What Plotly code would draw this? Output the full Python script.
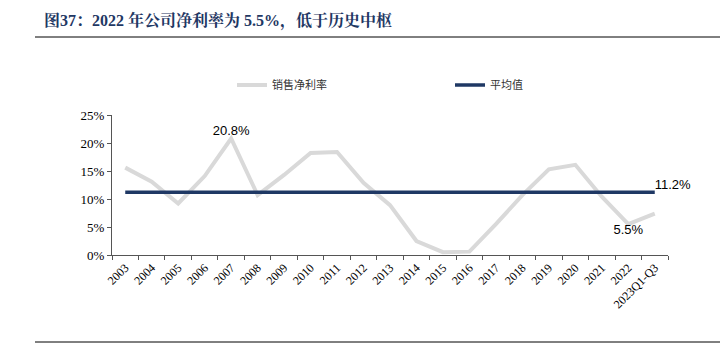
import plotly.graph_objects as go

categories = ["2003", "2004", "2005", "2006", "2007", "2008", "2009", "2010", "2011", "2012",
              "2013", "2014", "2015", "2016", "2017", "2018", "2019", "2020", "2021", "2022",
              "2023Q1-Q3"]
net_margin = [15.6, 13.1, 9.2, 14.1, 20.8, 10.7, 14.3, 18.2, 18.4, 12.9,
              8.9, 2.5, 0.5, 0.6, 5.5, 10.7, 15.3, 16.1, 10.4, 5.5, 7.4]
average_value = 11.2
y_ticks = [0, 5, 10, 15, 20, 25]
y_tick_labels = ["0%", "5%", "10%", "15%", "20%", "25%"]

avg_series = [average_value] * len(categories)

def pct(v):
    return f"{v:.1f}%"

gray_text = [""] * len(categories)
gray_pos = ["top center"] * len(categories)
i_max = net_margin.index(max(net_margin))
gray_text[i_max] = pct(net_margin[i_max])
gray_pos[i_max] = "top center"
i22 = categories.index("2022")
gray_text[i22] = pct(net_margin[i22])
gray_pos[i22] = "bottom center"

avg_text = [""] * len(categories)
avg_text[-1] = pct(average_value)

# page has an 8px body margin; figure coordinates are page coordinates minus 8
OFF = 8
W, H = 728 - OFF, 359 - OFF
L, R, T, B = 112 - OFF, 60, 115 - OFF, 359 - 255
pw = W - L - R
ph = H - T - B

def px2paper_x(px):
    return (px - OFF - L) / pw

def px2paper_y(py):
    return (H - B - (py - OFF)) / ph

fig = go.Figure()
fig.add_trace(go.Scatter(
    x=categories, y=net_margin, mode="lines+text", name="销售净利率",
    line=dict(color="#D9D9D9", width=4),
    text=gray_text, textposition=gray_pos,
    textfont=dict(family="Liberation Sans, Arial", size=13, color="#000000"),
    cliponaxis=False, legend="legend",
))
fig.add_trace(go.Scatter(
    x=categories, y=avg_series, mode="lines+text", name="平均值",
    line=dict(color="#1F3864", width=3.5),
    text=avg_text, textposition="top right",
    textfont=dict(family="Liberation Sans, Arial", size=13, color="#000000"),
    cliponaxis=False, legend="legend2",
))

legend_common = dict(
    orientation="h", yanchor="middle", xanchor="left",
    font=dict(family="Noto Sans CJK SC", size=11, color="#333333"),
    bgcolor="rgba(0,0,0,0)", itemwidth=30,
)

fig.update_layout(
    width=W, height=H,
    margin=dict(l=L, r=R, t=T, b=B),
    paper_bgcolor="white", plot_bgcolor="white",
    title=dict(
        text="图37：2022 年公司净利率为 5.5%，低于历史中枢",
        x=(45 - OFF - 1) / W, xref="container", xanchor="left",
        y=1 - (20 - OFF) / H, yref="container", yanchor="middle",
        font=dict(family="Liberation Serif, Noto Serif CJK SC, Noto Sans CJK SC", size=16, color="#1F3864", weight="bold"),
    ),
    showlegend=True,
    legend=dict(x=px2paper_x(232), y=px2paper_y(85), **legend_common),
    legend2=dict(x=px2paper_x(450), y=px2paper_y(85), **legend_common),
    xaxis=dict(
        type="category", showgrid=False, showline=True, linecolor="#555555", linewidth=1,
        ticks="outside", ticklen=4, tickcolor="#555555", tickson="boundaries",
        tickangle=-45, tickfont=dict(family="Liberation Serif, Times New Roman", size=12, color="#000000"),
        range=[-0.5, len(categories) - 0.5], zeroline=False, automargin=False,
    ),
    yaxis=dict(
        range=[0, 25], tickvals=y_ticks, ticktext=y_tick_labels,
        showgrid=False, showline=True, linecolor="#555555", linewidth=1,
        ticks="outside", ticklen=4, tickcolor="#555555", zeroline=False, automargin=False,
        tickfont=dict(family="Liberation Serif, Times New Roman", size=13, color="#000000"),
    ),
    shapes=[
        dict(type="line", xref="paper", yref="paper",
             x0=px2paper_x(35), x1=px2paper_x(720), y0=px2paper_y(37), y1=px2paper_y(37),
             line=dict(color="#000000", width=1)),
        dict(type="line", xref="paper", yref="paper",
             x0=px2paper_x(35), x1=px2paper_x(720), y0=px2paper_y(342), y1=px2paper_y(342),
             line=dict(color="#000000", width=1)),
    ],
)

fig.write_html("out.html")
